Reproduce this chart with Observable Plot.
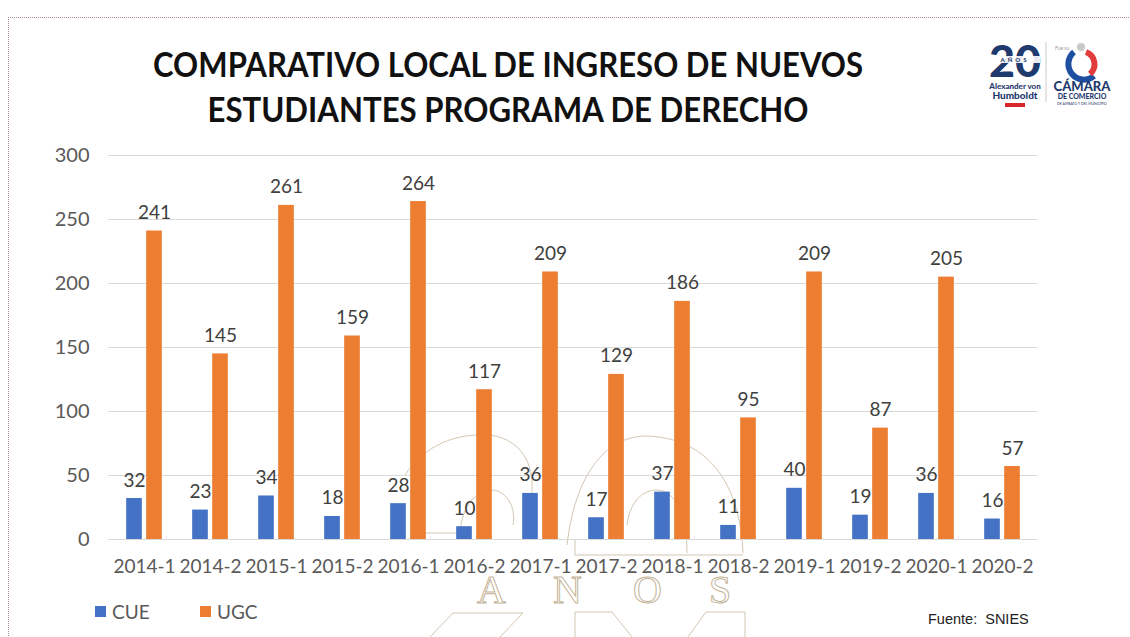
<!DOCTYPE html>
<html>
<head>
<meta charset="utf-8">
<script src="https://cdn.jsdelivr.net/npm/d3@7"></script>
<script src="https://cdn.jsdelivr.net/npm/@observablehq/plot@0.6"></script>
<style>
  html, body { margin: 0; padding: 0; background: #fff; }
  body { width: 1130px; height: 637px; position: relative; overflow: hidden; font-family: Lato, "Open Sans", sans-serif; }
  #frame { position: absolute; left: 8px; top: 17px; width: 1200px; height: 700px; border-top: 1px dotted #a89090; border-left: 1px dotted #a89090; }
  #water { position: absolute; left: 0; top: 0; }
  #chart { position: absolute; left: 0; top: 130px; }
  #overlay { position: absolute; left: 0; top: 0; pointer-events: none; }
  .legend { position: absolute; top: 600px; font-size: 19px; color: #595959; display: flex; align-items: center; }
  .legend .sw { width: 11px; height: 11px; display: inline-block; margin-right: 6px; }
  #fuente { position: absolute; left: 928px; top: 611px; font-family: "Liberation Sans", Arial, sans-serif; font-size: 14.5px; color: #222; }
</style>
</head>
<body>
<div id="frame"></div>
<svg id="water" width="1130" height="637">
  <g fill="none" stroke="#c9b9a0" stroke-width="1" opacity="0.8">
    <path d="M405 475 C 425 445, 455 433, 490 435 C 525 440, 540 470, 528 515"/>
    <path d="M460 533 C 462 505, 476 490, 493 490 C 508 492, 516 508, 513 525"/>
    <path d="M418 533 L460 533"/>
    <path d="M567 545 C 575 475, 605 437, 645 436 C 705 437, 740 480, 743 553"/>
    <path d="M627 525 C 630 502, 642 490, 657 490 C 676 491, 687 515, 687 553"/>
    <path d="M575 540 L575 555 L743 555"/>
    <path d="M430 637 L453 613 L523 613 L500 637"/>
    <path d="M575 637 L575 612 L612 612 L632 637"/>
    <path d="M688 637 L706 612 L745 612 L745 637"/>
  </g>
  <g fill="#fff" stroke="#c4b398" stroke-width="1" font-family="Liberation Serif, DejaVu Serif, serif" font-size="40">
    <text x="477" y="603">A</text>
    <text x="553" y="603">N</text>
    <text x="633" y="603">O</text>
    <text x="709" y="603">S</text>
  </g>
</svg>
<div id="chart"></div>
<svg id="overlay" width="1130" height="637">
  <g font-family="Lato, 'Open Sans', sans-serif" font-weight="700" fill="#111" font-size="35" text-anchor="middle">
    <text x="508" y="77" textLength="710" lengthAdjust="spacingAndGlyphs">COMPARATIVO LOCAL DE INGRESO DE NUEVOS</text>
    <text x="508" y="122" textLength="601" lengthAdjust="spacingAndGlyphs">ESTUDIANTES PROGRAMA DE DERECHO</text>
  </g>
  <g font-family="Lato, 'Open Sans', sans-serif" font-weight="900">
    <text x="989" y="77" font-size="44" fill="#1f3a6e" textLength="52" lengthAdjust="spacingAndGlyphs">20</text>
    <rect x="990" y="56" width="50" height="7" fill="#fff" opacity="0.9"/>
    <text x="1015" y="62" font-size="6" fill="#1f3a6e" text-anchor="middle" letter-spacing="3">AÑOS</text>
    <text x="1015" y="89" font-size="8" fill="#1f3a6e" text-anchor="middle">Alexander von</text>
    <text x="1015" y="99" font-size="10" fill="#1f3a6e" text-anchor="middle">Humboldt</text>
    <rect x="1005" y="103" width="20" height="4" fill="#d8262e"/>
    <line x1="1046" y1="42" x2="1046" y2="102" stroke="#ccc" stroke-width="1"/>
    <text x="1055" y="50" font-size="5" fill="#999" font-weight="400">Fue su</text>
    <circle cx="1081" cy="47" r="4" fill="#c9c9c9"/>
    <path d="M1074 52 A15 15 0 1 0 1094 76" fill="none" stroke="#1e4fa0" stroke-width="6"/>
    <path d="M1086 52 A13 13 0 0 1 1090 74" fill="none" stroke="#e23b3b" stroke-width="6"/>
    <text x="1082" y="91" font-size="13" fill="#1f3a6e" text-anchor="middle">CÁMARA</text>
    <text x="1082" y="99" font-size="7" fill="#1f3a6e" text-anchor="middle">DE COMERCIO</text>
    <text x="1082" y="105" font-size="3.5" fill="#1f3a6e" text-anchor="middle" font-weight="400">DE AMBATO Y DEL MUNICIPIO</text>
  </g>
</svg>
<div class="legend" style="left:95px"><span class="sw" style="background:#4472C4"></span>CUE</div>
<div class="legend" style="left:200px"><span class="sw" style="background:#ED7D31"></span>UGC</div>
<div id="fuente">Fuente:&nbsp; SNIES</div>
<script>
const periods = ["2014-1","2014-2","2015-1","2015-2","2016-1","2016-2","2017-1","2017-2","2018-1","2018-2","2019-1","2019-2","2020-1","2020-2"];
const cueValues = [32,23,34,18,28,10,36,17,37,11,40,19,36,16];
const ugcValues = [241,145,261,159,264,117,209,129,186,95,209,87,205,57];
const seriesNames = ["CUE","UGC"];
const seriesColors = ["#4472C4","#ED7D31"];
const yTicks = [0,50,100,150,200,250,300];

const cueData = periods.map((p, i) => ({period: p, series: "CUE", value: cueValues[i]}));
const ugcData = periods.map((p, i) => ({period: p, series: "UGC", value: ugcValues[i]}));

const bandInset = (929 / 14 - 16) / 2;

const chart = Plot.plot({
  width: 1130,
  height: 459,
  marginLeft: 108,
  marginRight: 93,
  marginTop: 25,
  marginBottom: 50,
  style: {background: "transparent", color: "#595959", fontFamily: "Lato, 'Open Sans', sans-serif", fontSize: "20px", overflow: "visible"},
  x: {domain: periods, padding: 0, label: null},
  y: {domain: [0, 300], label: null},
  color: {domain: seriesNames, range: seriesColors},
  marks: [
    Plot.ruleY(yTicks, {stroke: "#d9d9d9", strokeWidth: 1}),
    Plot.axisY(yTicks, {tickSize: 0, tickPadding: 19, fontSize: 20, label: null}),
    Plot.axisX({tickSize: 0, tickPadding: 20, fontSize: 19, label: null}),
    Plot.barY(cueData, {x: "period", y: "value", fill: "series", insetLeft: bandInset, insetRight: bandInset, dx: -10}),
    Plot.barY(ugcData, {x: "period", y: "value", fill: "series", insetLeft: bandInset, insetRight: bandInset, dx: 10}),
    Plot.text(cueData, {x: "period", y: "value", text: "value", dx: -10, dy: -12, lineAnchor: "bottom", fill: "#404040", fontSize: 19}),
    Plot.text(ugcData, {x: "period", y: "value", text: "value", dx: 10, dy: -12, lineAnchor: "bottom", fill: "#404040", fontSize: 19})
  ]
});
document.getElementById("chart").appendChild(chart);
</script>
</body>
</html>
